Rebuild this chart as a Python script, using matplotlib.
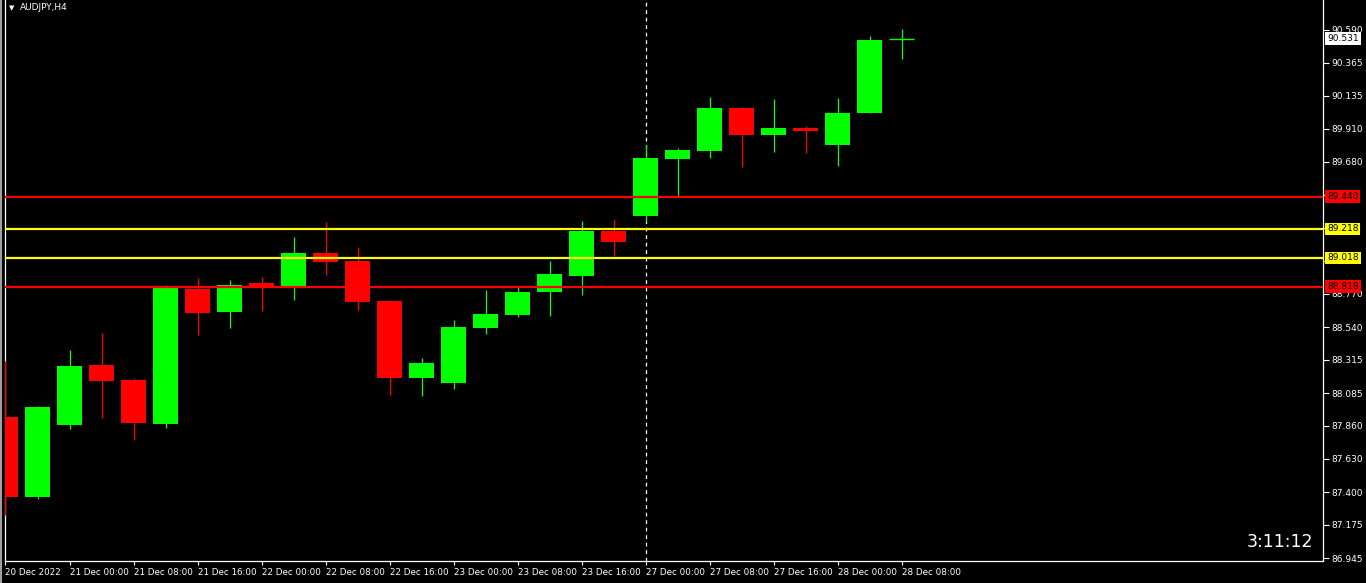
import numpy as np
import matplotlib
matplotlib.use('Agg')
import matplotlib.pyplot as plt
from matplotlib.lines import Line2D

# AUDJPY H4 candles, 20 Dec 16:00 .. 28 Dec 08:00
opens  = [87.919, 87.367, 87.864, 88.278, 88.175, 87.871, 88.803, 88.644, 88.844, 88.816,
          89.051, 88.996, 88.720, 88.188, 88.154, 88.534, 88.623, 88.782, 88.892, 89.203,
          89.306, 89.700, 89.755, 90.052, 89.865, 89.914, 89.796, 90.017, 90.528]
highs  = [88.306, 87.995, 88.382, 88.499, 88.188, 88.830, 88.879, 88.865, 88.886, 89.162,
          89.265, 89.093, 88.727, 88.327, 88.589, 88.796, 88.823, 88.996, 89.272, 89.286,
          89.796, 89.776, 90.128, 90.059, 90.114, 89.928, 90.121, 90.549, 90.597]
lows   = [87.243, 87.353, 87.837, 87.912, 87.761, 87.843, 88.485, 88.534, 88.651, 88.727,
          88.899, 88.658, 88.071, 88.064, 88.113, 88.492, 88.609, 88.616, 88.761, 89.030,
          89.265, 89.444, 89.707, 89.645, 89.748, 89.741, 89.652, 90.017, 90.390]
closes = [87.367, 87.988, 88.271, 88.168, 87.878, 88.823, 88.637, 88.830, 88.816, 89.051,
          88.989, 88.713, 88.188, 88.292, 88.540, 88.630, 88.782, 88.906, 89.203, 89.127,
          89.707, 89.762, 90.052, 89.865, 89.914, 89.893, 90.017, 90.521, 90.531]

xlabels = ['20 Dec 2022', '21 Dec 00:00', '21 Dec 08:00', '21 Dec 16:00', '22 Dec 00:00',
           '22 Dec 08:00', '22 Dec 16:00', '23 Dec 00:00', '23 Dec 08:00', '23 Dec 16:00',
           '27 Dec 00:00', '27 Dec 08:00', '27 Dec 16:00', '28 Dec 00:00', '28 Dec 08:00']
yticks = [90.590, 90.365, 90.135, 89.910, 89.680, 89.450, 89.225, 88.995, 88.770,
          88.540, 88.315, 88.085, 87.860, 87.630, 87.400, 87.175, 86.945]
hidden_ticks = [89.450, 89.225, 88.995]   # covered by the level boxes

# horizontal levels drawn on the chart
levels = [89.440, 89.218, 89.018, 88.818]
level_colors = ['#ff0000', '#ffff00', '#ffff00', '#ff0000']
last_price = 90.531
separator_idx = 20   # 27 Dec 00:00
timer = '3:11:12'

green = '#00ff00'
red = '#ff0000'
fg = '#ffffff'

fig = plt.figure(figsize=(13.66, 5.83), dpi=100, facecolor='black')
ax = fig.add_axes([5/1366, 22/583, 1318/1366, 561/583])
ax.set_facecolor('black')

n = len(opens)
x = np.arange(n)
for i in range(n):
    o, h, l, c = opens[i], highs[i], lows[i], closes[i]
    col = green if c >= o else red
    ax.vlines(x[i], l, h, color=col, lw=0.9, zorder=3)
    if abs(c - o) < 0.008:
        ax.hlines(c, x[i] - 0.39, x[i] + 0.39, color=col, lw=1.0, zorder=3)
    else:
        ax.bar(x[i], c - o, bottom=o, width=0.78, color=col, lw=0, zorder=3)

for lv, lc in zip(levels, level_colors):
    ax.axhline(lv, color=lc, lw=1.6, zorder=4)

ax.axvline(separator_idx, color=fg, lw=0.9, ls=(0, (3, 3)), zorder=2)

ax.set_xlim(-0.0156, 41.17)
ax.set_ylim(86.926, 90.797)

ax.set_xticks(np.arange(0, n, 2))
ax.set_xticklabels(xlabels, ha='left')
ax.set_yticks(yticks)
ax.set_yticklabels(['' if v in hidden_ticks else '%.3f' % v for v in yticks])
ax.yaxis.tick_right()
ax.tick_params(axis='y', colors=fg, labelcolor=fg, length=4, width=0.8, labelsize=6.5, pad=2)
ax.tick_params(axis='x', colors=fg, labelcolor=fg, length=3, width=0.8, labelsize=6.3, pad=2)
for lab in ax.get_xticklabels():
    lab.set_horizontalalignment('left')

for s in ['left', 'right', 'bottom']:
    ax.spines[s].set_color(fg)
    ax.spines[s].set_linewidth(0.9)
ax.spines['top'].set_visible(False)

# price boxes on the right axis
for lv, lc in zip(levels, level_colors):
    ax.annotate('%.3f' % lv, xy=(1.0, lv), xycoords=('axes fraction', 'data'),
                xytext=(3, 0), textcoords='offset points', ha='left', va='center',
                fontsize=6.5, color='black', zorder=10, annotation_clip=False,
                bbox=dict(boxstyle='square,pad=0.2', fc=lc, ec='none'))
ax.annotate('%.3f' % last_price, xy=(1.0, last_price), xycoords=('axes fraction', 'data'),
            xytext=(3, 0), textcoords='offset points', ha='left', va='center',
            fontsize=6.5, color='black', zorder=10, annotation_clip=False,
            bbox=dict(boxstyle='square,pad=0.2', fc='white', ec='none'))

fig.text(12/1366, 1 - 8/583, '\u25bc', color=fg, fontsize=5, ha='center', va='center')
fig.text(20/1366, 1 - 8/583, 'AUDJPY,H4', color=fg, fontsize=6.5, ha='left', va='center')
fig.text(1313/1366, 1 - 542/583, timer, color=fg, fontsize=12.5, ha='right', va='center')

# window border on the far left
fig.add_artist(Line2D([1/1366, 1/1366], [0, 1], color='#a0a0a0', lw=1.5,
                      transform=fig.transFigure))

fig.savefig('out.png', dpi=100, facecolor='black')
